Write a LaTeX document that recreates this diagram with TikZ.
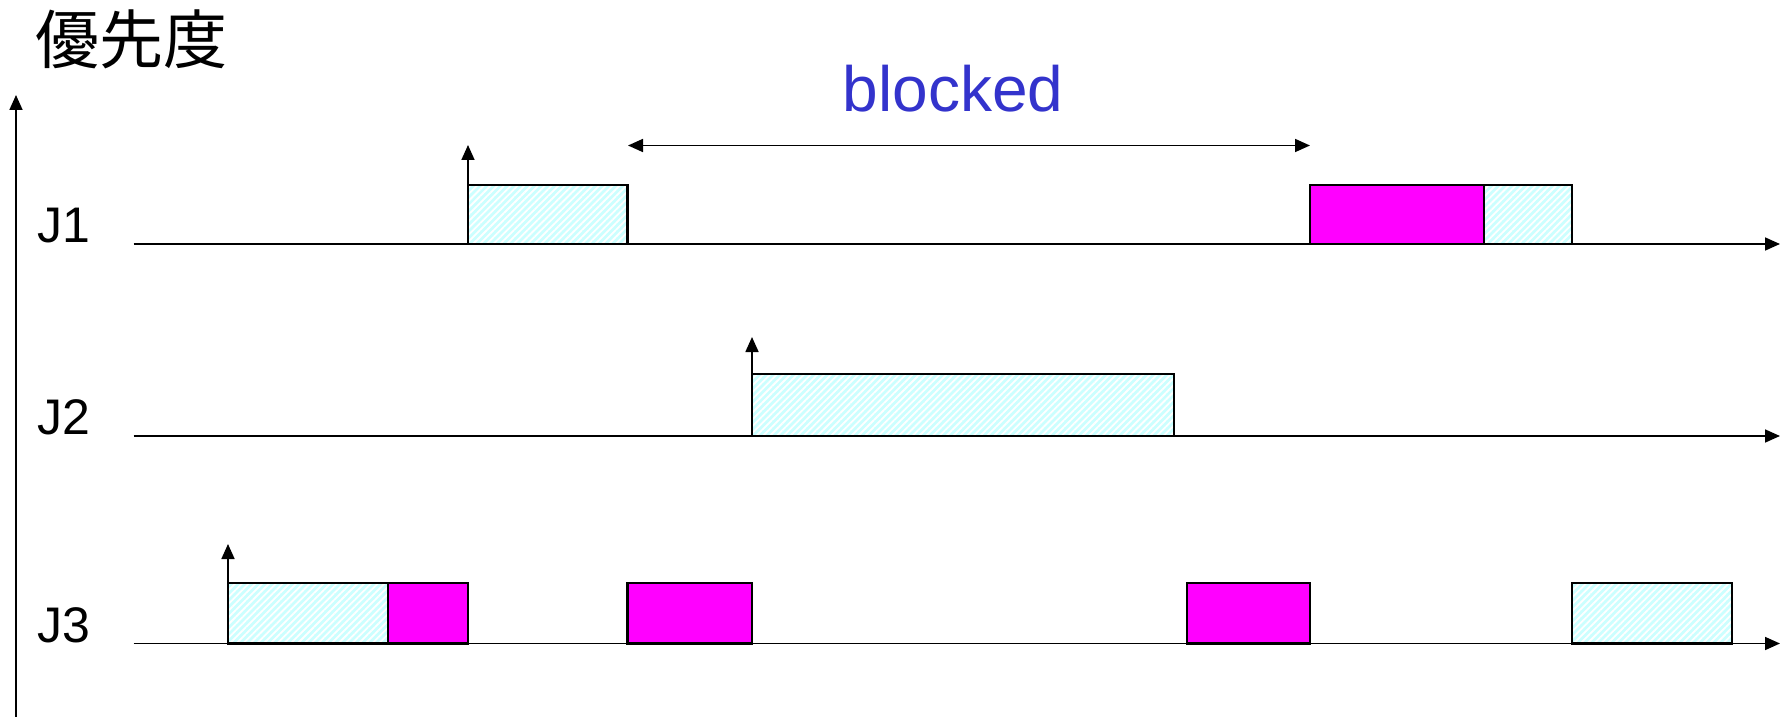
\documentclass[tikz,border=0pt]{standalone}
\usepackage{fontspec}
\setmainfont{Liberation Sans}
\newfontfamily\cjkfont{Noto Sans CJK JP}
\usetikzlibrary{arrows.meta,patterns.meta}
\definecolor{hatchbg}{RGB}{204,255,255}
\definecolor{blockblue}{RGB}{51,51,204}
\definecolor{critmag}{RGB}{255,0,255}
\begin{document}
\begin{tikzpicture}[x=0.5pt,y=-0.5pt,
  tipstyle/.style={-{Triangle[length=7.5pt,width=6.5pt]}},
  axisline/.style={line width=0.85pt,tipstyle},
  releasearrow/.style={line width=0.85pt,tipstyle},
  blockarrow/.style={line width=0.85pt,{Triangle[length=7.5pt,width=6.5pt]}-{Triangle[length=7.5pt,width=6.5pt]}},
  cyanbox/.style={draw=black,line width=1.15pt,preaction={fill=hatchbg},
    pattern={Lines[angle=45,distance=2.4pt,line width=0.9pt]},pattern color=white},
  magbox/.style={draw=black,line width=1.15pt,fill=critmag},
  joblabel/.style={font=\fontsize{25}{30}\selectfont,anchor=base west,inner sep=0pt},
]
\useasboundingbox (0,0) rectangle (1789,717);

% priority axis
\coordinate (pbot) at (16,717);
\coordinate (ptop) at (16,95);
\draw[axisline] (pbot) -- (ptop);
\node (prio) [font=\cjkfont\fontsize{32}{36}\selectfont,inner sep=0pt] at (131,39) {優先度};

% blocked interval
\coordinate (bl) at (628,145.5);
\coordinate (br) at (1310,145.5);
\draw[blockarrow] (bl) -- (br);
\node (blocked) [font=\fontsize{32}{38}\selectfont,text=blockblue,anchor=base,inner sep=0pt] at (953,112) {blocked};

% time lines
\coordinate (j1s) at (133.5,244);   \coordinate (j1e) at (1780,244);
\coordinate (j2s) at (133.5,436);   \coordinate (j2e) at (1780,436);
\coordinate (j3s) at (133.5,643.5); \coordinate (j3e) at (1780,643.5);

% job labels
\node (J1) [joblabel] at (37,242.5) {J1};
\node (J2) [joblabel] at (37,434.5) {J2};
\node (J3) [joblabel] at (37,642) {J3};

% J1 boxes
\coordinate (a1) at (468,185);  \coordinate (a2) at (627.5,244);
\draw[cyanbox] (a1) rectangle (a2);
\coordinate (b1) at (1310,185); \coordinate (b2) at (1484,244);
\draw[magbox] (b1) rectangle (b2);
\coordinate (c1) at (1484,185); \coordinate (c2) at (1572,244);
\draw[cyanbox] (c1) rectangle (c2);

% J2 box
\coordinate (d1) at (752,374);  \coordinate (d2) at (1174,436);
\draw[cyanbox] (d1) rectangle (d2);

% J3 boxes
\coordinate (e1) at (228,583);  \coordinate (e2) at (388,643.5);
\draw[cyanbox] (e1) rectangle (e2);
\coordinate (f1) at (388,583);  \coordinate (f2) at (468,643.5);
\draw[magbox] (f1) rectangle (f2);
\coordinate (g1) at (627.5,583);  \coordinate (g2) at (752,643.5);
\draw[magbox] (g1) rectangle (g2);
\coordinate (h1) at (1187,583); \coordinate (h2) at (1310,643.5);
\draw[magbox] (h1) rectangle (h2);
\coordinate (k1) at (1572,583); \coordinate (k2) at (1732,643.5);
\draw[cyanbox] (k1) rectangle (k2);

% time axes (drawn over boxes' bottom edges)
\draw[axisline] (j1s) -- (j1e);
\draw[axisline] (j2s) -- (j2e);
\draw[axisline] (j3s) -- (j3e);

% release arrows
\coordinate (r1b) at (468,244);  \coordinate (r1t) at (468,145);
\coordinate (r2b) at (752,436);  \coordinate (r2t) at (752,337);
\coordinate (r3b) at (228,643.5);\coordinate (r3t) at (228,544);
\draw[releasearrow] (r1b) -- (r1t);
\draw[releasearrow] (r2b) -- (r2t);
\draw[releasearrow] (r3b) -- (r3t);
\end{tikzpicture}
\end{document}
